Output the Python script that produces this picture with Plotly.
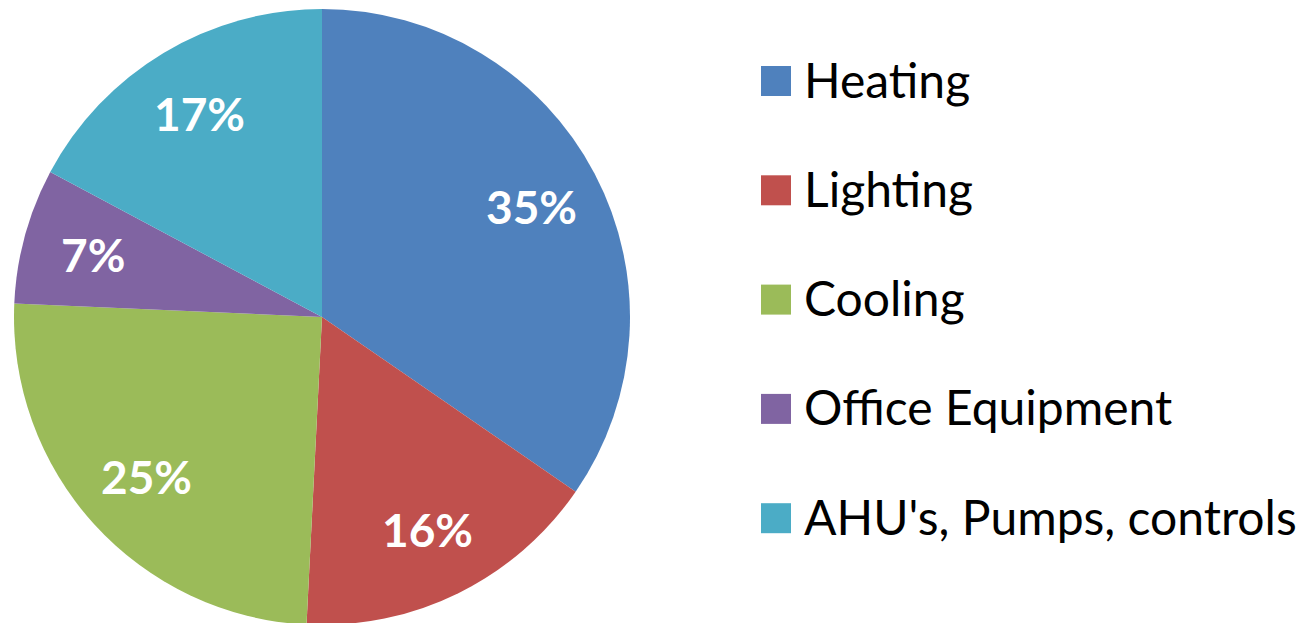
import numpy as np
import plotly.graph_objects as go

labels = ["Heating", "Lighting", "Cooling", "Office Equipment", "AHU's, Pumps, controls"]
values = [34.6, 16.2, 24.9, 7.1, 17.2]
colors = ["#4F81BD", "#C0504D", "#9BBB59", "#8064A2", "#4BACC6"]

W, H = 1316, 623
# page body has an 8px margin, so layout pixels below are in figure space
PIE_CX, PIE_CY, PIE_R = 314, 309, 308
LABEL_RFRAC = 0.77

fig = go.Figure()
fig.add_trace(go.Pie(
    labels=labels,
    values=values,
    sort=False,
    direction="clockwise",
    rotation=0,
    marker=dict(colors=colors, line=dict(width=0)),
    textinfo="none",
    domain=dict(x=[(PIE_CX - PIE_R) / W, (PIE_CX + PIE_R) / W],
                y=[1 - (PIE_CY + PIE_R) / H, 1 - (PIE_CY - PIE_R) / H]),
    showlegend=False,
))

annotations, shapes = [], []

# percentage labels placed at each slice's mid-angle
vals = np.array(values, dtype=float)
frac = vals / vals.sum()
cum = np.cumsum(frac) - frac / 2
for f, m in zip(frac, cum):
    theta = 2 * np.pi * m  # clockwise from 12 o'clock
    px = PIE_CX + LABEL_RFRAC * PIE_R * np.sin(theta)
    py = PIE_CY - LABEL_RFRAC * PIE_R * np.cos(theta)
    annotations.append(dict(
        xref="paper", yref="paper", x=px / W, y=1 - py / H,
        xanchor="center", yanchor="middle", showarrow=False,
        text="<b>%d%%</b>" % round(f * 100),
        font=dict(family="Lato", size=46, color="white"),
    ))

# legend with large swatches, like the original
leg_x0, leg_sq, leg_txt_x = 753, 30, 794
leg_y0, leg_dy = 73, 109.3
for i, (lab, col) in enumerate(zip(labels, colors)):
    cy = leg_y0 + leg_dy * i
    shapes.append(dict(
        type="rect", xref="paper", yref="paper",
        x0=leg_x0 / W, x1=(leg_x0 + leg_sq) / W,
        y0=1 - (cy - leg_sq / 2) / H, y1=1 - (cy + leg_sq / 2) / H,
        fillcolor=col, line=dict(width=0),
    ))
    annotations.append(dict(
        xref="paper", yref="paper", x=leg_txt_x / W, y=1 - (cy - 2) / H,
        xanchor="left", yanchor="middle", showarrow=False,
        text=lab, font=dict(family="Lato", size=48, color="black"),
    ))

fig.update_layout(
    width=W, height=H,
    margin=dict(l=0, r=0, t=0, b=0),
    paper_bgcolor="white", plot_bgcolor="white",
    shapes=shapes, annotations=annotations,
)
fig.write_html("out.html")
